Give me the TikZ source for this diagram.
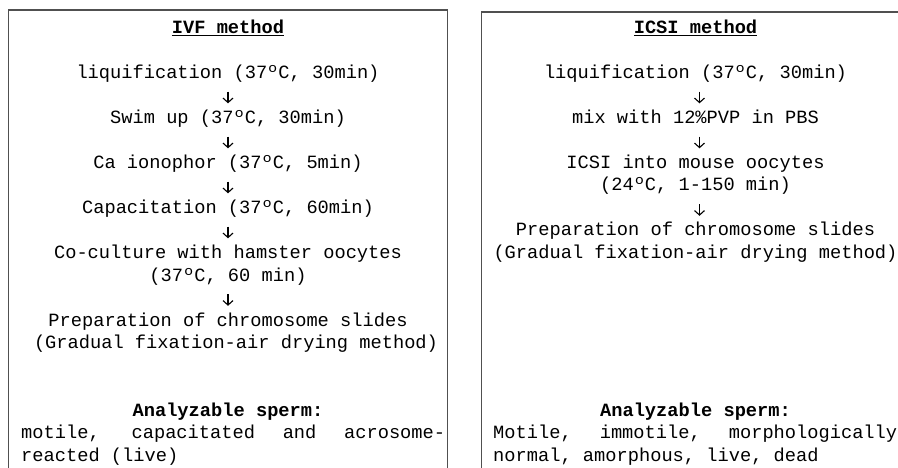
\documentclass[tikz,border=0pt]{standalone}
\usepackage{fontspec}
\setmainfont{Liberation Mono}
\usetikzlibrary{arrows.meta}
\newcommand{\myul}[1]{\setbox0\hbox{#1}\rlap{\rule[-3pt]{\wd0}{1.2pt}}\box0}
\begin{document}
\begin{tikzpicture}[x=1pt,y=-1pt,
  every node/.style={font=\fontsize{18.7}{22.5}\selectfont, inner sep=0pt,
    text height=13pt, text depth=4pt, anchor=base},
  boxline/.style={draw={rgb,255:red,80;green,80;blue,80}, line width=1.6pt},
  flow/.style={-{Straight Barb[length=4.5pt,width=10pt]}, line width=1.1pt,
    shorten <=9pt, shorten >=7pt},
  titletext/.style={font=\fontsize{18.7}{22.5}\selectfont\bfseries},
  boldtext/.style={font=\fontsize{18.7}{22.5}\selectfont\bfseries},
  leftline/.style={anchor=base west}]
\useasboundingbox (0,0) rectangle (898,468);
\clip (0,0) rectangle (898,468);
% boxes
\draw[boxline] (8.5,490) -- (8.5,10) -- (447.5,10) -- (447.5,490);
\draw[boxline] (481.5,490) -- (481.5,12) -- (930,12);
% left: IVF
\node[titletext] (t1) at (228,33.5) {\myul{IVF method}};
\node (a1) at (228,78.5) {liquification (37ºC, 30min)};
\node (a2) at (228,123.5) {Swim up (37ºC, 30min)};
\node (a3) at (228,168.5) {Ca ionophor (37ºC, 5min)};
\node (a4) at (228,213.5) {Capacitation (37ºC, 60min)};
\node (a5) at (228,258.5) {Co-culture with hamster oocytes};
\node (a5b) at (228,281) {(37ºC, 60 min)};
\node (a6) at (228,326) {Preparation of chromosome slides};
\node (a6b) at (236,348.5) {(Gradual fixation-air drying method)};
\node[boldtext] (s1) at (228,416) {Analyzable sperm:};
\node[leftline] (s1a) at (21,438.5) {\makebox[424pt][s]{motile, capacitated and acrosome-}};
\node[leftline] (s1b) at (21,461) {reacted (live)};
\draw[flow] (a1) -- (a2);
\draw[flow] (a2) -- (a3);
\draw[flow] (a3) -- (a4);
\draw[flow] (a4) -- (a5);
\draw[flow] (a5b) -- (a6);
% right: ICSI
\node[titletext] (t2) at (695.5,33.5) {\myul{ICSI method}};
\node (b1) at (695.5,78.5) {liquification (37ºC, 30min)};
\node (b2) at (695.5,123.5) {mix with 12\%PVP in PBS};
\node (b3) at (695.5,168.5) {ICSI into mouse oocytes};
\node (b3b) at (695.5,191) {(24ºC, 1-150 min)};
\node (b4) at (695.5,236) {Preparation of chromosome slides};
\node (b4b) at (695.5,258.5) {(Gradual fixation-air drying method)};
\node[boldtext] (s2) at (695.5,416) {Analyzable sperm:};
\node[leftline] (s2a) at (493,438.5) {\makebox[404pt][s]{Motile, immotile, morphologically}};
\node[leftline] (s2b) at (493,461) {normal, amorphous, live, dead};
\draw[flow] ([xshift=4pt]b1.south) -- ([xshift=4pt]b2.north);
\draw[flow] ([xshift=4pt]b2.south) -- ([xshift=4pt]b3.north);
\draw[flow] ([xshift=4pt]b3b.south) -- ([xshift=4pt]b4.north);
\end{tikzpicture}
\end{document}
